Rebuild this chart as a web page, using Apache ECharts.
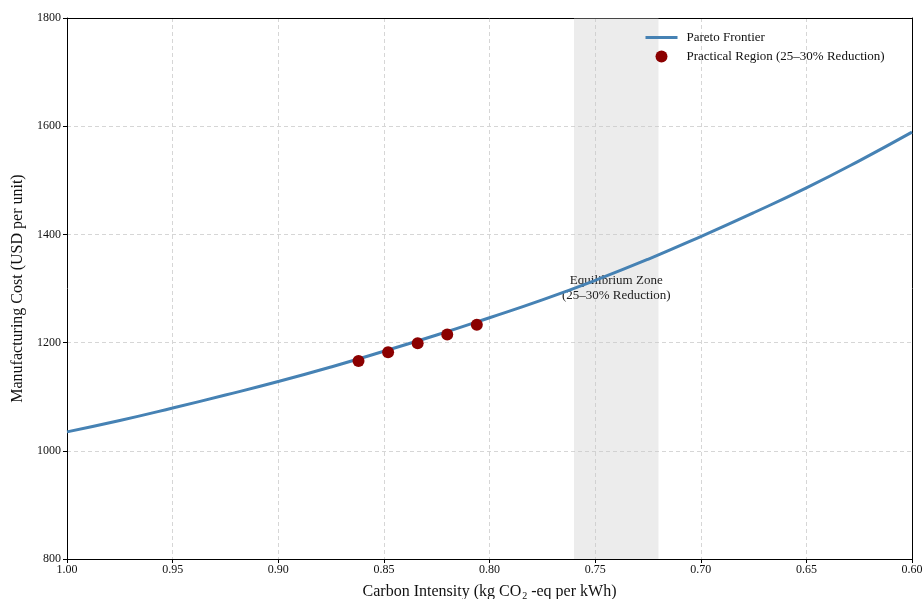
<!DOCTYPE html>
<html>
<head>
<meta charset="utf-8">
<script src="https://cdn.jsdelivr.net/npm/echarts@6/dist/echarts.min.js"></script>
<style>
  html, body { margin: 0; padding: 0; background: #fff; }
  #chart { width: 924px; height: 599px; }
</style>
</head>
<body>
<div id="chart"></div>
<script>
// 帕累托前沿
var frontierX = [1.000, 0.975, 0.950, 0.925, 0.900, 0.875, 0.850, 0.825, 0.800,
  0.775, 0.750, 0.725, 0.700, 0.675, 0.650, 0.625, 0.600]
var frontierY = [1035, 1056, 1079, 1103, 1128, 1155, 1184, 1214, 1246,
  1279, 1315, 1354, 1396, 1440, 1486, 1536, 1589]

// 实际区域点
var practicalX = [0.862, 0.848, 0.834, 0.820, 0.806]
var practicalY = [1166, 1182, 1199, 1215, 1233]

// 均衡区
var zoneRange = [0.76, 0.72]

var font = 'Liberation Serif'

var myChart = echarts.init(document.getElementById('chart'))

var option = {
  animation: false,
  textStyle: { fontFamily: font },
  grid: {
    left: 67,
    right: 12,
    top: 18,
    bottom: 40,
    outerBoundsMode: 'none',
    containLabel: false,
  },
  legend: {
    orient: 'vertical',
    left: 639,
    top: 26,
    itemGap: 6,
    itemWidth: 32,
    itemHeight: 12,
    textStyle: { fontFamily: font, fontSize: 13, color: '#111', padding: [0, 0, 0, 4] },
    data: [
      {
        name: 'Pareto Frontier',
        itemStyle: { color: 'rgba(0,0,0,0)', borderWidth: 0 },
        lineStyle: { width: 3 },
      },
      'Practical Region (25–30% Reduction)',
    ],
  },
  xAxis: [
    {
      type: 'value',
      inverse: true,
      min: 0.6,
      max: 1.0,
      interval: 0.05,
      name: 'Carbon Intensity (kg CO{sub|2} -eq per kWh)',
      nameLocation: 'middle',
      nameGap: 24,
      nameTextStyle: {
        fontFamily: font,
        fontSize: 16,
        color: '#111',
        rich: {
          sub: { fontFamily: font, fontSize: 10, color: '#111', padding: [8, 0, 0, 1] },
        },
      },
      axisLine: { show: true, lineStyle: { color: '#000', width: 1 } },
      axisTick: { show: true, length: 4, lineStyle: { color: '#000' } },
      axisLabel: {
        color: '#111',
        fontSize: 12,
        margin: 5,
        formatter: function (v) { return v.toFixed(2) },
      },
      splitLine: {
        show: true,
        showMinLine: false,
        showMaxLine: false,
        lineStyle: { color: '#d6d6d6', type: [4, 3], width: 1 },
      },
    },
    {
      // 上边框
      type: 'value',
      position: 'top',
      min: 0,
      max: 1,
      axisLine: { show: true, onZero: false, lineStyle: { color: '#000', width: 1 } },
      axisTick: { show: false },
      axisLabel: { show: false },
      splitLine: { show: false },
    },
  ],
  yAxis: [
    {
      type: 'value',
      min: 800,
      max: 1800,
      interval: 200,
      name: 'Manufacturing Cost (USD per unit)',
      nameLocation: 'middle',
      nameGap: 35,
      nameTextStyle: { fontFamily: font, fontSize: 16, color: '#111' },
      axisLine: { show: true, lineStyle: { color: '#000', width: 1 } },
      axisTick: { show: true, length: 4, lineStyle: { color: '#000' } },
      axisLabel: {
        color: '#111',
        fontSize: 12,
        margin: 6,
        formatter: function (v) { return String(v) },
      },
      splitLine: {
        show: true,
        showMinLine: false,
        showMaxLine: false,
        lineStyle: { color: '#d6d6d6', type: [4, 3], width: 1 },
      },
    },
    {
      // 右边框
      type: 'value',
      position: 'right',
      min: 0,
      max: 1,
      axisLine: { show: true, onZero: false, lineStyle: { color: '#000', width: 1 } },
      axisTick: { show: false },
      axisLabel: { show: false },
      splitLine: { show: false },
    },
  ],
  series: [
    {
      name: 'Pareto Frontier',
      type: 'line',
      smooth: true,
      symbol: 'none',
      z: 3,
      lineStyle: { color: '#4682b4', width: 3 },
      itemStyle: { color: '#4682b4' },
      data: frontierX.map(function (x, i) { return [x, frontierY[i]] }),
      markArea: {
        silent: true,
        itemStyle: { color: 'rgba(200,200,200,0.35)' },
        label: {
          show: true,
          position: 'inside',
          fontFamily: font,
          fontSize: 13,
          color: '#222',
          lineHeight: 15,
          align: 'center',
          formatter: 'Equilibrium Zone\n(25–30% Reduction)',
        },
        data: [[{ xAxis: zoneRange[0] }, { xAxis: zoneRange[1] }]],
      },
    },
    {
      name: 'Practical Region (25–30% Reduction)',
      type: 'scatter',
      symbol: 'circle',
      symbolSize: 12,
      z: 4,
      itemStyle: { color: '#8b0000', opacity: 1 },
      data: practicalX.map(function (x, i) { return [x, practicalY[i]] }),
    },
  ],
}

myChart.setOption(option)
</script>
</body>
</html>
